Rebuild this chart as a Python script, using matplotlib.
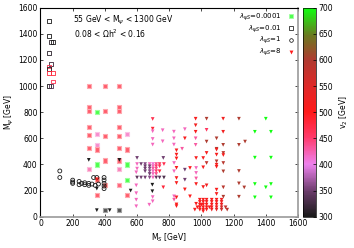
import numpy as np
import matplotlib
matplotlib.use("Agg")
import matplotlib.pyplot as plt
from matplotlib.colors import LinearSegmentedColormap, Normalize
from matplotlib.lines import Line2D

# lambda = 0.0001 (filled squares)
sq4_ms = [300, 400, 490, 300, 300, 350, 400, 490, 490, 300, 490,
          300, 350, 400, 490, 540, 350, 300, 350, 490, 540,
          400, 490, 350, 540, 300, 490, 540, 350, 400, 350, 490, 540, 400, 490]
sq4_mpsi = [1000, 1000, 1000, 840, 810, 800, 810, 840, 810, 685, 685,
            625, 635, 620, 620, 635, 550, 525, 515, 525, 515,
            430, 430, 400, 400, 365, 365, 280, 285, 245, 165, 240, 165, 50, 50]
sq4_v2 = [480, 480, 480, 480, 480, 700, 480, 480, 480, 480, 480,
          480, 420, 480, 480, 420, 420, 480, 480, 480, 480,
          480, 480, 700, 700, 430, 430, 700, 520, 500, 480, 470, 480, 300, 300]

# lambda = 0.01 (open squares)
sq2_ms = [55, 55, 65, 78, 55, 65, 50, 50, 50, 75, 75, 50, 63]
sq2_mpsi = [1500, 1380, 1335, 1335, 1250, 1170, 1150, 1130, 1100, 1100, 1035, 1000, 1000]
sq2_v2 = [300, 300, 310, 300, 310, 320, 470, 300, 480, 480, 470, 300, 330]

# lambda = 1 (open circles)
ci_ms = [120, 120, 200, 200, 200, 240, 240, 255, 275, 275, 300, 300,
         320, 330, 340, 350, 360, 395, 395, 395, 395, 395]
ci_mpsi = [350, 300, 280, 265, 255, 270, 245, 255, 260, 245, 255, 240,
           250, 300, 240, 300, 250, 300, 280, 255, 235, 215]
ci_v2 = [300] * len(ci_ms)

# lambda = 8 (filled down triangles)
tri_ms = [300, 490, 350, 350, 430, 560, 695, 695, 350,
          600, 763,
          600, 625, 650, 678, 699, 719, 740, 767,
          650, 678, 699, 719, 740,
          600, 650, 678, 699, 719,
          650, 678, 699, 719, 740,
          678, 699, 719,
          600, 625, 650, 678, 699, 719, 740, 767,
          595, 595, 595, 595, 595, 676, 697, 697, 763,
          697, 697, 697, 759, 697, 759, 697, 829, 829, 829, 897, 880,
          964, 1032, 1135, 1233, 1400, 964, 964, 1032, 1135, 1332, 1432,
          897, 964, 1032, 1094, 1271, 964, 1135, 1233, 1094,
          1332, 1432, 1332, 1432, 1400, 1332, 1432,
          1233, 1233, 1266, 1233,
          845, 845, 845, 830, 845, 830, 845, 845, 830, 830, 845, 845, 845,
          897, 897, 897, 929, 929,
          967, 967, 967, 967, 967, 967,
          1011, 1011, 1011, 1032, 1032, 1032,
          1094, 1094, 1094, 1094, 1094, 1094, 1094,
          1136, 1136, 1136, 1136, 1136, 1136,
          990, 1011, 1032, 1064, 1094, 1125,
          990, 1011, 1032, 1064, 1094, 1125,
          990, 1000, 1011, 1032, 1064, 1094, 1125,
          975, 990, 1011, 1032, 1050, 1064, 1094, 1125, 1150,
          959, 990, 1011, 1032, 1064, 1094, 1125, 1160,
          1011]
tri_mpsi = [435, 435, 215, 50, 50, 200, 245, 195, 285,
            450, 450,
            403, 403, 403, 403, 403, 403, 403, 403,
            386, 386, 386, 386, 386,
            368, 368, 368, 368, 368,
            348, 348, 348, 348, 348,
            327, 327, 327,
            300, 300, 300, 300, 300, 300, 300, 300,
            340, 240, 180, 130, 80, 92, 118, 150, 225,
            748, 674, 654, 662, 595, 577, 552, 651, 600, 552, 670, 520,
            750, 750, 750, 750, 750, 700, 650, 665, 650, 650, 650,
            600, 600, 575, 600, 575, 550, 550, 550, 520,
            452, 452, 250, 250, 225, 148, 148,
            350, 255, 224, 153,
            508, 475, 446, 411, 374, 348, 296, 258, 156, 130, 148, 94, 81,
            360, 283, 209, 373, 156,
            449, 373, 335, 250, 99, 293,
            449, 378, 227, 488, 411, 240,
            513, 475, 424, 398, 207, 174, 382,
            488, 411, 347, 225, 153, 472,
            130, 130, 130, 130, 130, 130,
            113, 113, 113, 113, 113, 113,
            92, 92, 92, 92, 92, 92, 92,
            72, 72, 72, 72, 72, 72, 72, 72, 72,
            54, 54, 54, 54, 54, 54, 54, 54,
            41]
tri_v2 = [300, 300, 300, 300, 300, 300, 300, 300, 520,
          350, 350,
          420, 350, 360, 420, 410, 440, 460, 470,
          350, 350, 420, 450, 460,
          420, 350, 360, 430, 440,
          350, 360, 420, 450, 480,
          350, 420, 440,
          340, 350, 350, 360, 420, 340, 340, 330,
          420, 420, 420, 420, 420, 420, 420, 420, 480,
          470, 480, 420, 420, 420, 420, 420, 420, 420, 420, 420, 430,
          510, 600, 520, 600, 700, 520, 510, 460, 520, 700, 700,
          510, 430, 600, 600, 600, 430, 600, 600, 600,
          700, 700, 700, 700, 700, 700, 700,
          600, 600, 600, 600,
          510, 510, 500, 420, 510, 420, 510, 510, 420, 430, 510, 500, 510,
          350, 350, 510, 500, 500,
          510, 420, 420, 510, 510, 430,
          510, 510, 510, 510, 580, 520,
          520, 510, 590, 510, 510, 510, 510,
          590, 590, 600, 590, 600, 510,
          510, 510, 510, 510, 510, 520,
          510, 510, 510, 510, 510, 520,
          510, 510, 510, 510, 510, 510, 530,
          510, 510, 510, 510, 510, 510, 520, 560, 580,
          510, 510, 510, 510, 520, 540, 570, 590,
          510]

cbar_ticks = [300, 350, 400, 450, 500, 550, 600, 650, 700]

# palette roughly like the gnuplot one: black -> violet -> red -> green
cmap = LinearSegmentedColormap.from_list("v2pal", [
    (0.0, "#1a1a1a"),
    (0.12, "#6a3c6a"),
    (0.25, "#ee82ee"),
    (0.38, "#ff3a6a"),
    (0.5, "#ff1a1a"),
    (0.62, "#e02828"),
    (0.75, "#b03a30"),
    (0.87, "#6a7a20"),
    (1.0, "#10ff10"),
])
norm = Normalize(300, 700)


def lighten(cols, amount):
    cols = cols.copy()
    cols[:, :3] = 1 - (1 - amount) * (1 - cols[:, :3])
    return cols


plt.rcParams['font.family'] = ['DejaVu Sans']
plt.rcParams['font.size'] = 5.5
plt.rcParams['mathtext.fontset'] = 'dejavusans'

fig = plt.figure(figsize=(3.54, 2.48), dpi=100)
ax = fig.add_axes([0.1144, 0.1262, 0.7274, 0.8428])
cax = fig.add_axes([0.856, 0.1262, 0.0367, 0.8428])

# filled squares, lighter rim (as the low-res gnuplot output shows them)
base = cmap(norm(np.array(sq4_v2)))
ax.scatter(sq4_ms, sq4_mpsi, s=9, marker='s', c=lighten(base, 0.25),
           edgecolors=lighten(base, 0.6), linewidths=0.8, zorder=2)

ax.scatter(sq2_ms, sq2_mpsi, s=8, marker='s', facecolors='none',
           edgecolors=cmap(norm(np.array(sq2_v2))), linewidths=0.6, zorder=3)
ax.scatter(ci_ms, ci_mpsi, s=8, marker='o', facecolors='none',
           edgecolors=cmap(norm(np.array(ci_v2))), linewidths=0.6, zorder=3)
sc = ax.scatter(tri_ms, tri_mpsi, s=7, marker='v', c=tri_v2, cmap=cmap, norm=norm,
                linewidths=0, zorder=4)

ax.set_xlim(0, 1600)
ax.set_ylim(0, 1600)
ax.set_xticks(np.arange(0, 1601, 200))
ax.set_yticks(np.arange(0, 1601, 200))
ax.tick_params(direction='in', length=2.5, width=0.5, top=True, right=True, pad=2)
for sp in ax.spines.values():
    sp.set_linewidth(0.8)
ax.spines['right'].set_color('#999999')
ax.spines['bottom'].set_color('#999999')
ax.spines['right'].set_linewidth(1.2)
ax.spines['bottom'].set_linewidth(1.2)

ax.set_xlabel("M$_S$ [GeV]", labelpad=2)
ax.set_ylabel("M$_\\psi$ [GeV]", labelpad=2)

ax.text(0.126, 0.941, "55 GeV < M$_\\psi$ < 1300 GeV", transform=ax.transAxes, va='center', ha='left')
ax.text(0.13, 0.874, "0.08 < $\\Omega$h$^2$ < 0.16", transform=ax.transAxes, va='center', ha='left')

handles = [
    Line2D([], [], ls='none', marker='s', ms=2.6, mfc='#50ff50', mec='#a0ffa0', mew=0.6),
    Line2D([], [], ls='none', marker='s', ms=2.6, mfc='none', mec='black', mew=0.5),
    Line2D([], [], ls='none', marker='o', ms=2.6, mfc='none', mec='black', mew=0.5),
    Line2D([], [], ls='none', marker='v', ms=2.8, mfc='#ff1a1a', mec='none'),
]
labels = ["$\\lambda_{\\psi S}$=0.0001", "$\\lambda_{\\psi S}$=0.01",
          "$\\lambda_{\\psi S}$=1", "$\\lambda_{\\psi S}$=8"]
ax.legend(handles, labels, loc='upper right', markerfirst=False, frameon=False,
          fontsize=5, labelspacing=0.05, handlelength=1.0, handletextpad=0.8,
          borderaxespad=0.2, borderpad=0.3)

cb = fig.colorbar(sc, cax=cax, ticks=cbar_ticks)
cb.outline.set_linewidth(0.5)
cax.tick_params(direction='in', length=2, width=0.5, pad=2)
cb.set_label("v$_2$ [GeV]", labelpad=3)

fig.savefig("out.png", dpi=100)
